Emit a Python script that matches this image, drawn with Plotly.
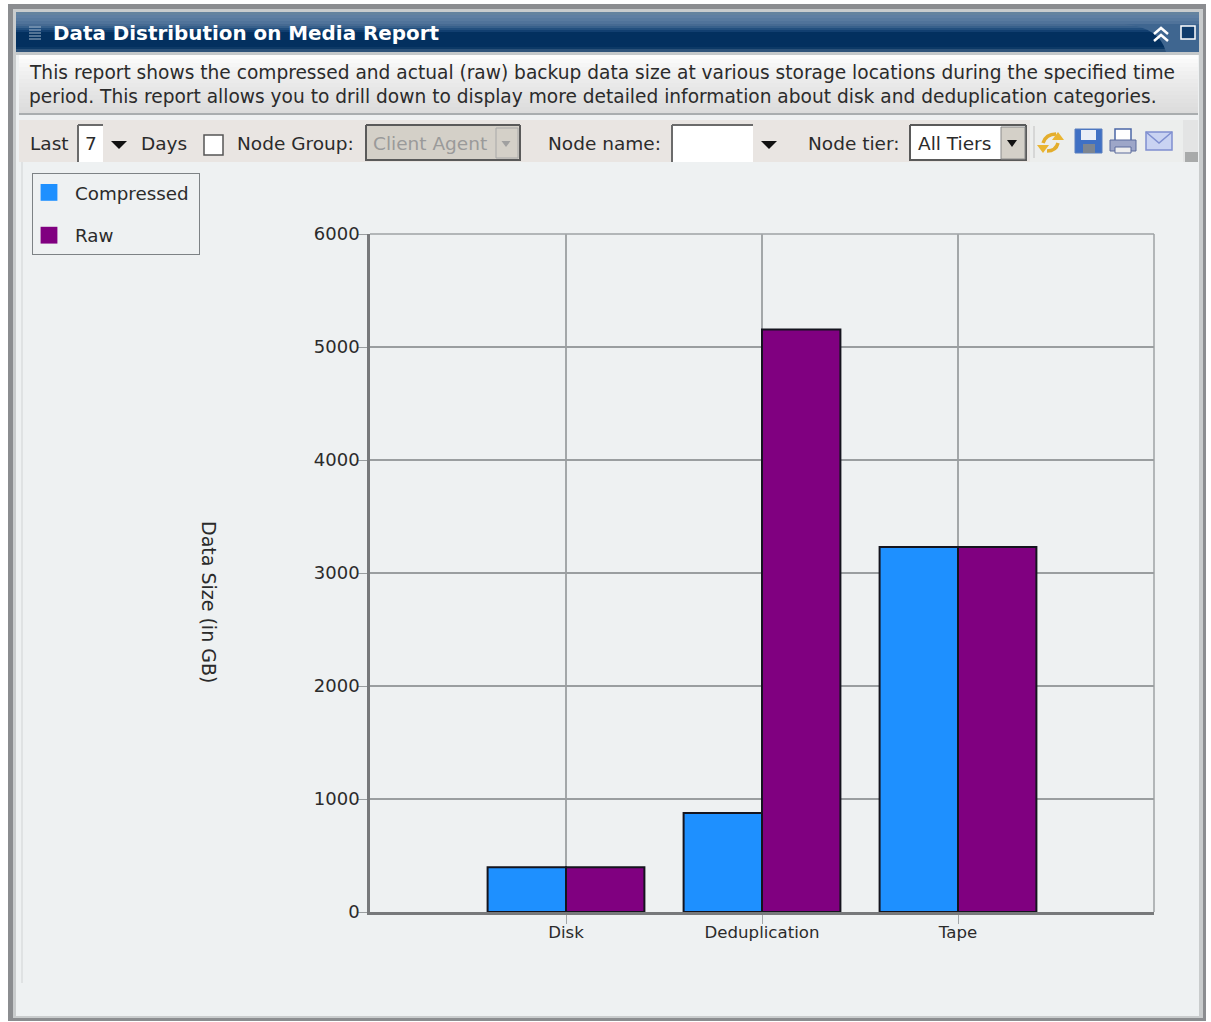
import plotly.graph_objects as go

categories = ["Disk", "Deduplication", "Tape"]
compressed = [395, 876, 3230]
raw = [395, 5155, 3230]
y_ticks = [0, 1000, 2000, 3000, 4000, 5000, 6000]

W, H = 1211, 1022
FONT = "DejaVu Sans"
shapes = []
annotations = []


def px(x):
    return x / W


def py(y):
    return 1 - y / H


def rect(x0, y0, x1, y1, fill, line=None, lw=1, layer="below"):
    shapes.append(dict(type="rect", xref="paper", yref="paper", x0=px(x0), x1=px(x1), y0=py(y0), y1=py(y1),
                       fillcolor=fill, layer=layer,
                       line=dict(color=line or fill, width=lw if line else 0)))


def hline(x0, x1, y, color, lw=1, layer="below"):
    shapes.append(dict(type="line", xref="paper", yref="paper", x0=px(x0), x1=px(x1), y0=py(y), y1=py(y),
                       layer=layer, line=dict(color=color, width=lw)))


def vline(x, y0, y1, color, lw=1, layer="below"):
    shapes.append(dict(type="line", xref="paper", yref="paper", x0=px(x), x1=px(x), y0=py(y0), y1=py(y1),
                       layer=layer, line=dict(color=color, width=lw)))


def text(x, y, s, size=18.5, color="#2b2b2b", anchor="left", angle=0, family=FONT):
    annotations.append(dict(xref="paper", yref="paper", x=px(x - (2 if anchor == "left" else 0)), y=py(y), text=s,
                            showarrow=False, xanchor=anchor, yanchor="middle", textangle=angle,
                            font=dict(family=family, size=size, color=color)))


# window frame and panel
rect(0, 0, W, H, "#ffffff")
rect(8, 4, 1206, 1021, "#8b8d90")
rect(13, 9, 1203, 1018, "#c9cccd")
rect(16, 12, 1199, 1016, "#eef1f2")

# title bar gradient
bands = [(12, 15, "#64839f"), (15, 18, "#5f7fa3"), (18, 21, "#587a9f"), (21, 24, "#50739a"), (24, 26, "#466a92"),
         (26, 28, "#37608b"), (28, 30, "#224f7e"), (30, 32, "#123f70"), (32, 47, "#03305f"), (47, 49, "#0c3966"),
         (49, 52, "#2d5279")]
for y0, y1, c in bands:
    rect(16, y0, 1199, y1, c)
# lighter curved corner of the title bar
shapes.append(dict(type="path", xref="paper", yref="paper", layer="below", fillcolor="#3f6690", line=dict(width=0),
                   path=f"M {px(1125)} {py(24)} Q {px(1160)} {py(28)} {px(1166)} {py(52)} L {px(1199)} {py(52)} "
                        f"L {px(1199)} {py(24)} Z"))
rect(16, 52, 1199, 55, "#c4c8ca")
for i in range(5):
    hline(29, 41, 27 + i * 3, "#a3b6cb", 1)

# description band
desc_colors = ["#fcfcfc", "#f9f9f9", "#f6f6f6", "#f3f3f3", "#f0f0f0", "#eeeeee", "#ebebeb", "#e9e9e9", "#e7e7e7",
               "#e5e5e5", "#e3e3e3", "#e1e1e1", "#dfdfdf", "#dddddd", "#dbdbdb"]
for i, c in enumerate(desc_colors):
    rect(19, 55 + i * 4, 1198, min(59 + i * 4, 114), c)
hline(19, 1198, 114, "#a9adaf", 2)
rect(19, 115, 1198, 120, "#eef0f1")

# toolbar
rect(19, 120, 1030, 162, "#e9e5e2")
rect(1030, 120, 1183, 162, "#eceeed")
rect(1183, 120, 1198, 162, "#e3e4e4")
rect(1185, 152, 1198, 162, "#a8aaaa")
vline(22, 162, 983, "#dfe2e3", 2)

# toolbar controls
rect(78, 125, 103, 162, "#ffffff")
vline(78, 125, 162, "#6b6b6b", 2)
hline(78, 103, 125, "#6b6b6b", 2)
rect(204, 135, 223, 155, "#ffffff", "#555555", 1.5)
rect(366, 125, 520, 161, "#d4d0c8")
vline(366, 125, 161, "#5a5a5a", 2)
hline(366, 520, 125, "#5a5a5a", 2)
hline(366, 520, 160, "#5a5a5a", 2)
vline(520, 125, 161, "#5a5a5a", 2)
rect(672, 125, 753, 162, "#ffffff")
vline(672, 125, 162, "#6b6b6b", 2)
hline(672, 753, 125, "#6b6b6b", 2)
rect(910, 125, 1026, 161, "#ffffff")
vline(910, 125, 161, "#5a5a5a", 2)
hline(910, 1026, 125, "#5a5a5a", 2)
hline(910, 1026, 160, "#5a5a5a", 2)
vline(1026, 125, 161, "#5a5a5a", 2)
rect(1001, 127, 1025, 159, "#d4d0c8", "#8a8a8a", 1)
rect(496, 128, 518, 158, "#d4d0c8", "#a8a8a8", 1)


def arrow(cx, cy, w, h, color):
    shapes.append(dict(type="path", xref="paper", yref="paper", layer="below", fillcolor=color,
                       line=dict(width=0),
                       path=f"M {px(cx - w / 2)} {py(cy)} L {px(cx + w / 2)} {py(cy)} L {px(cx)} {py(cy + h)} Z"))


arrow(119, 141, 16, 8, "#111111")
arrow(769, 141, 16, 8, "#111111")
arrow(1012, 140, 10, 7, "#111111")
arrow(506, 141, 9, 6, "#a0a0a0")

# toolbar icons
vline(1034, 126, 158, "#c0c0c0", 1)
shapes.append(dict(type="path", xref="paper", yref="paper", layer="below", line=dict(color="#e3ad2c", width=3.5),
                   path=f"M {px(1043)} {py(143)} Q {px(1046)} {py(134)} {px(1056)} {py(134)}"))
shapes.append(dict(type="path", xref="paper", yref="paper", layer="below", line=dict(color="#e3ad2c", width=3.5),
                   path=f"M {px(1058)} {py(143)} Q {px(1056)} {py(151)} {px(1047)} {py(151)}"))
arrow(1058, 140, 12, -8, "#eab531")
arrow(1043, 145, 12, 8, "#eab531")
rect(1075, 129, 1102, 153, "#3f70c4", "#5a7fbe", 1)
rect(1081, 130, 1096, 140, "#e9eef7")
rect(1083, 144, 1095, 153, "#7d8590")
rect(1115, 129, 1131, 142, "#ffffff", "#4b67a6", 1.5)
rect(1110, 140, 1136, 151, "#9da6c8", "#5a6a9c", 1)
rect(1115, 147, 1131, 153, "#eeeeee", "#5a6a9c", 1)
rect(1146, 132, 1172, 150, "#c9d3f2", "#7f8fd0", 1.5)
shapes.append(dict(type="path", xref="paper", yref="paper", layer="below", line=dict(color="#7f8fd0", width=1.5),
                   path=f"M {px(1146)} {py(132)} L {px(1159)} {py(143)} L {px(1172)} {py(132)}"))

# title bar buttons
shapes.append(dict(type="path", xref="paper", yref="paper", layer="below", line=dict(color="#ffffff", width=2.5),
                   path=f"M {px(1154)} {py(34)} L {px(1161)} {py(28)} L {px(1168)} {py(34)}"))
shapes.append(dict(type="path", xref="paper", yref="paper", layer="below", line=dict(color="#ffffff", width=2.5),
                   path=f"M {px(1154)} {py(41)} L {px(1161)} {py(35)} L {px(1168)} {py(41)}"))
rect(1181, 26, 1195, 39, "#0f3c6c", "#ffffff", 1.5)

# chart frame lines
hline(370, 1154, 234, "#9ea2a4", 1.5)
vline(1154, 234, 912, "#9ea2a4", 1.5)

# texts
text(53, 34, "<b>Data Distribution on Media Report</b>", 19.9, "#ffffff")
text(29, 73, "This report shows the compressed and actual (raw) backup data size at various storage locations during the specified time", 18.6)
text(29, 97, "period. This report allows you to drill down to display more detailed information about disk and deduplication categories.", 18.6)
text(30, 143.5, "Last")
text(85, 143.5, "7")
text(141, 143.5, "Days")
text(237, 143.5, "Node Group:")
text(373, 143.5, "Client Agent", color="#9a9a9a")
text(548, 143.5, "Node name:")
text(808, 143.5, "Node tier:")
text(918, 143.5, "All Tiers")
text(209, 602, "Data Size (in GB)", 19, angle=90, anchor="center")

fig = go.Figure()
fig.add_bar(name="Compressed", x=categories, y=compressed, legendgroup="c",
            marker=dict(color="#1e90ff", line=dict(color="#14141e", width=2)))
fig.add_bar(name="Raw", x=categories, y=raw, legendgroup="r",
            marker=dict(color="#800080", line=dict(color="#14141e", width=2)))

fig.update_layout(
    width=W, height=H, margin=dict(l=0, r=0, t=0, b=0, pad=0, autoexpand=False),
    paper_bgcolor="#ffffff", plot_bgcolor="rgba(0,0,0,0)",
    barmode="group", bargap=0.2, bargroupgap=0,
    font=dict(family=FONT, size=16, color="#2b2b2b"),
    shapes=shapes, annotations=annotations,
    legend=dict(x=px(32), y=py(173), xanchor="left", yanchor="top", bgcolor="rgba(0,0,0,0)",
                bordercolor="#7d8285", borderwidth=1, font=dict(size=18.3, color="#2b2b2b"),
                traceorder="grouped", itemclick=False, itemdoubleclick=False, tracegroupgap=16,
                itemwidth=32),
    xaxis=dict(domain=[px(370), px(1154)], range=[-1, 3], type="category", categoryorder="array", categoryarray=categories,
               showgrid=True, gridcolor="#a3a7a9", gridwidth=1.5, showline=True, linecolor="#77797b", linewidth=2.5,
               ticks="outside", ticklen=9, tickcolor="#a3a7a9", tickfont=dict(size=16.6), zeroline=False,
               ticklabelstandoff=-6),
    yaxis=dict(domain=[py(912), py(234)], range=[0, 6000], tickvals=y_ticks, showgrid=True, gridcolor="#9a9ea0", gridwidth=1.5,
               showline=True, linecolor="#77797b", linewidth=2.5, ticks="outside", ticklen=9, tickcolor="#9a9ea0",
               tickfont=dict(size=18), zeroline=False, ticklabelstandoff=-5),
)

post = """
document.body.style.margin='0';document.body.style.overflow='hidden';
function tuneLegend(){
  document.querySelectorAll('.legend .legendpoints path').forEach(function(p){
    p.style.strokeWidth='0';
    p.setAttribute('transform','translate(16,0) scale(1.4)');
  });
  var bg=document.querySelector('.legend rect.bg');
  if(bg){bg.setAttribute('width','167');}
}
tuneLegend();
setTimeout(tuneLegend,0);
setTimeout(tuneLegend,100);
"""
fig.write_html("out.html", config=dict(displayModeBar=False), post_script=post)
